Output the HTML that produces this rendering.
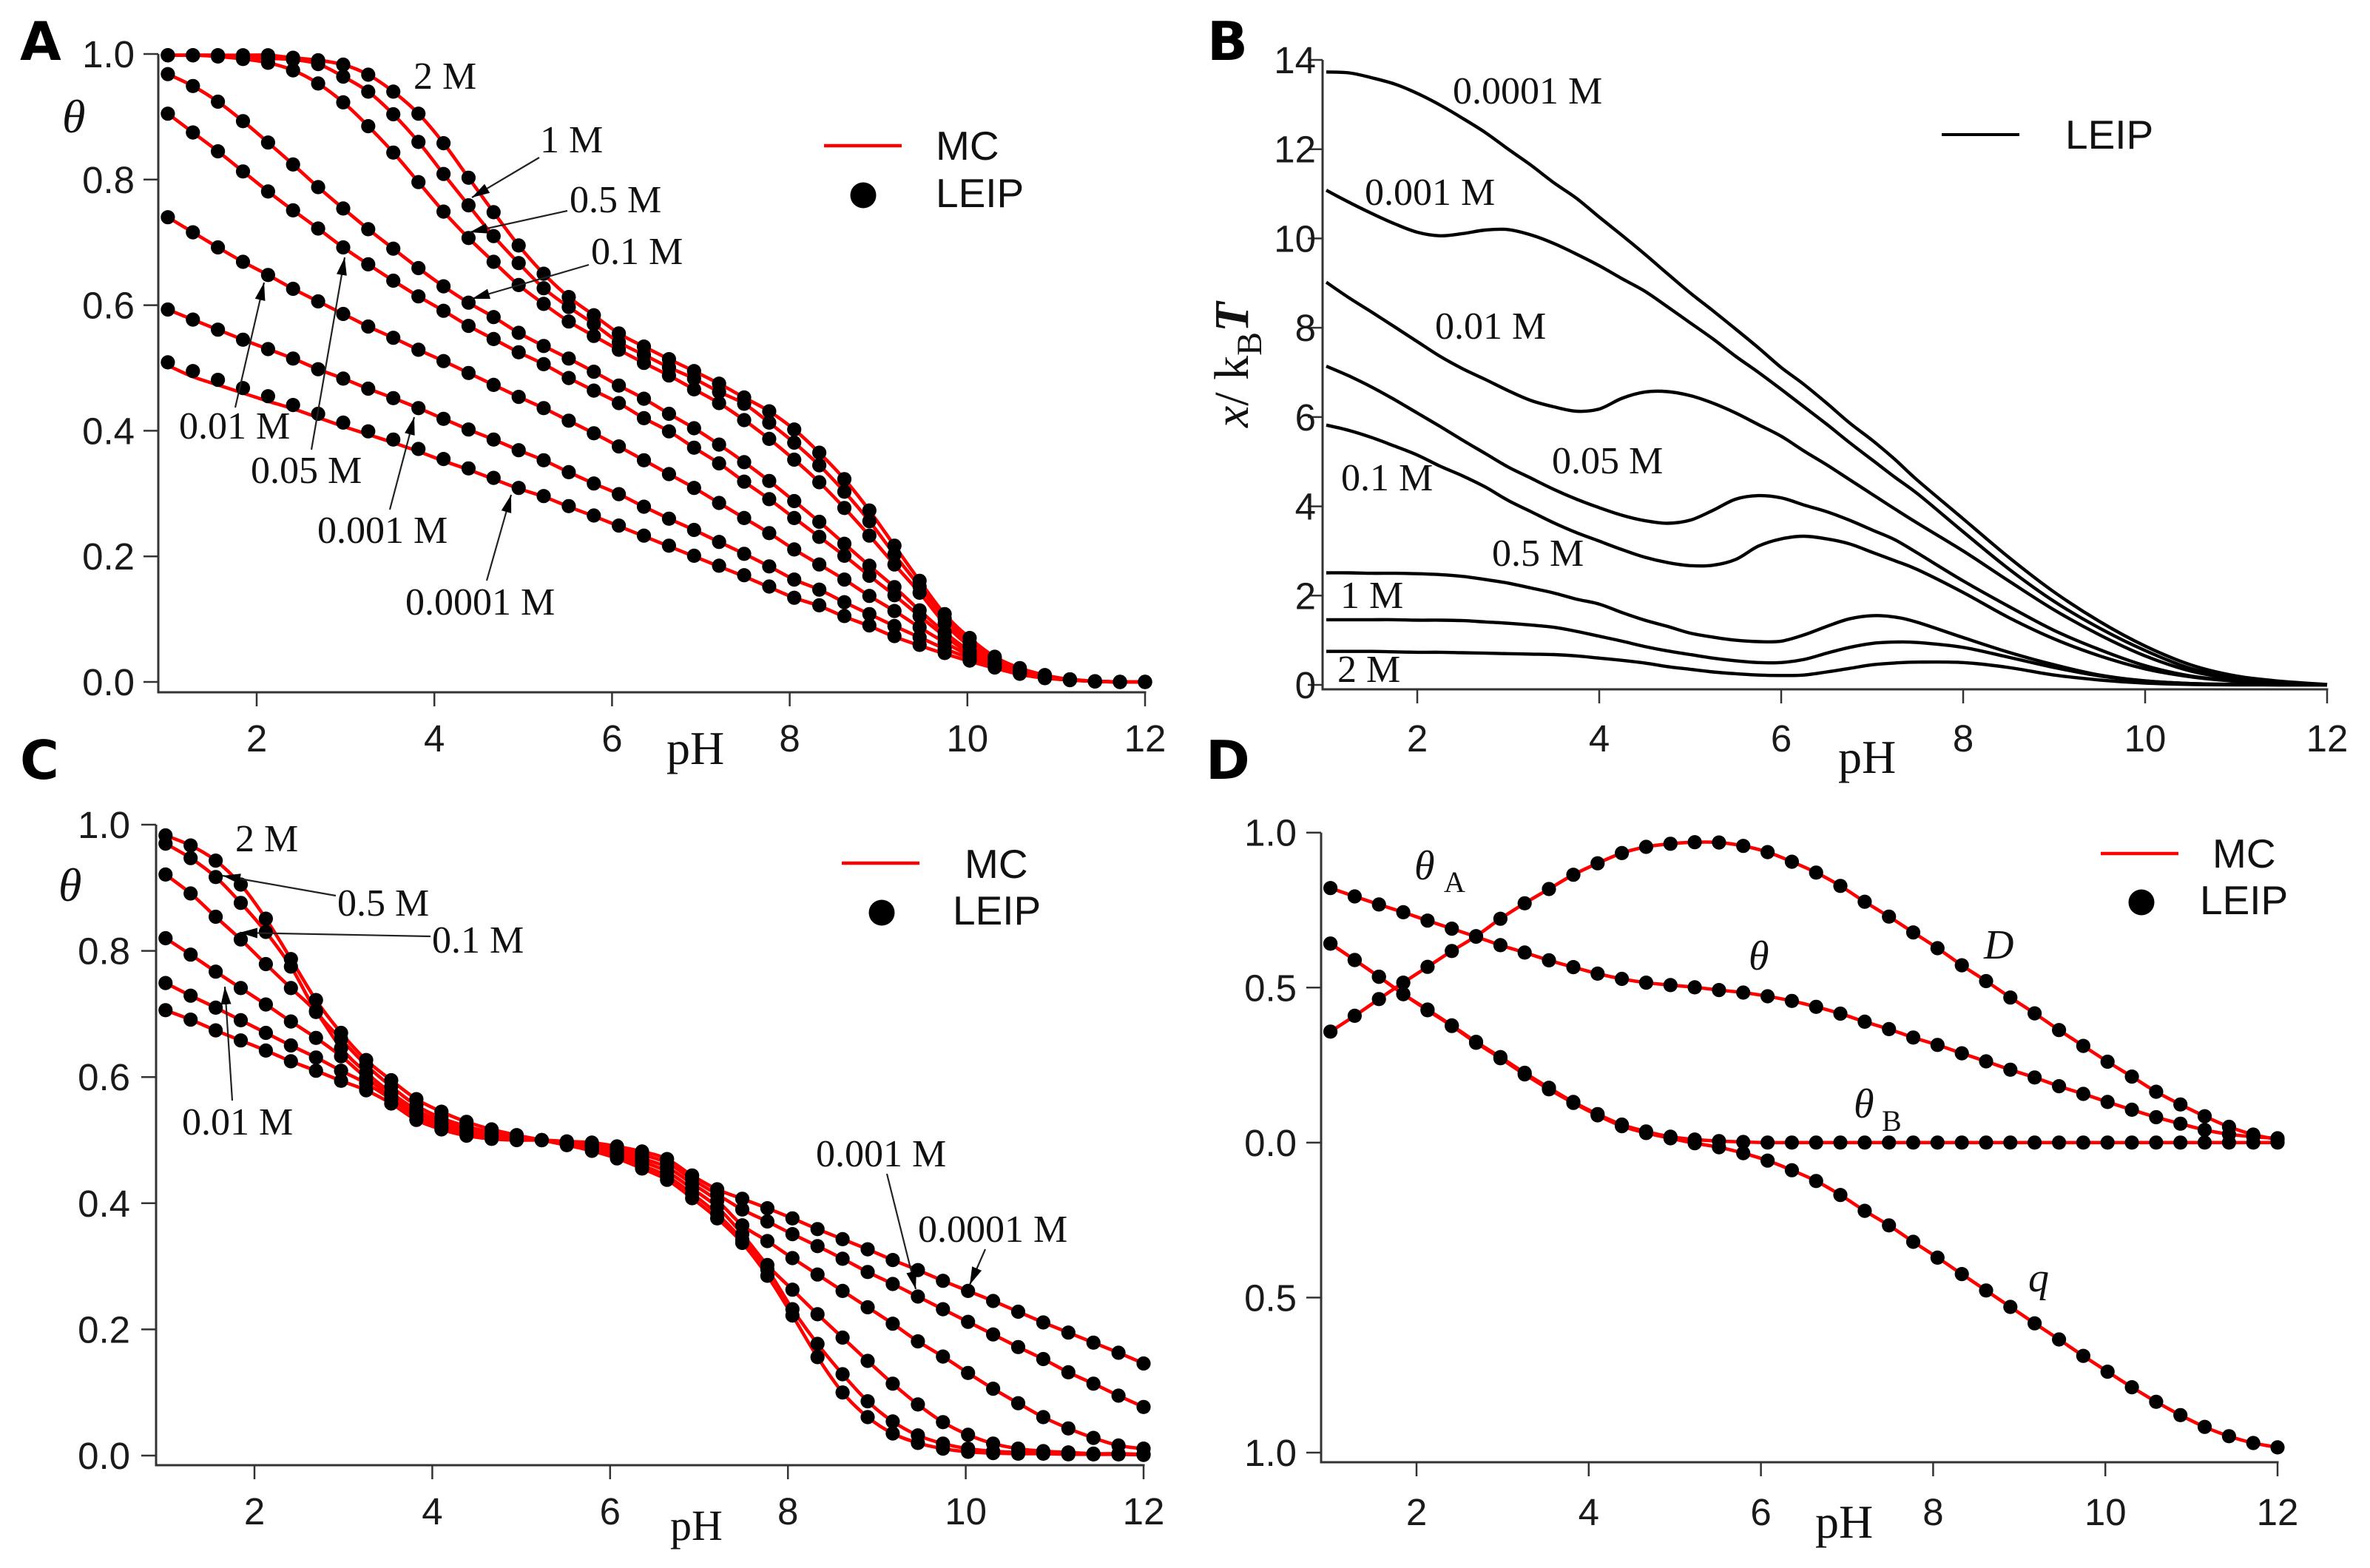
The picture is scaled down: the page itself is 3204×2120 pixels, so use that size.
<!DOCTYPE html>
<html lang="en">
<head>
<meta charset="utf-8">
<title>Ionization and charge curves versus pH</title>
<style>
html,body{margin:0;padding:0;background:#fff;width:3204px;height:2120px;overflow:hidden}
svg{display:block}
.tick{font-family:"Liberation Sans",sans-serif;font-size:51px;fill:#1a1a1a}
.leg{font-family:"Liberation Sans",sans-serif;font-size:55px;fill:#111}
.ann{font-family:"Liberation Serif",serif;font-size:52px;fill:#111}
.sym{font-family:"Liberation Serif",serif;font-style:italic;fill:#111}
.ph{font-family:"Liberation Serif",serif;fill:#111}
.panel{font-family:"DejaVu Sans",sans-serif;font-weight:bold;font-size:72px;fill:#000}
.arrow{stroke:#222;stroke-width:2.2;fill:none}
</style>
</head>
<body>
<svg id="fig" xmlns="http://www.w3.org/2000/svg" width="3204" height="2120" viewBox="0 0 3204 2120">
<defs>
<marker id="ah" viewBox="0 0 24 14" refX="24" refY="7" markerWidth="24" markerHeight="14" markerUnits="userSpaceOnUse" orient="auto"><path d="M0 0L24 7L0 14Z" fill="#000"/></marker>
</defs>
<rect width="3204" height="2120" fill="#fff"/>

<text class="panel" x="27" y="81">A</text>
<text class="panel" x="1632" y="81">B</text>
<text class="panel" x="27" y="1053">C</text>
<text class="panel" x="1630" y="1053">D</text>

<g id="plotA"></g>
<g id="plotB"></g>
<g id="plotC"></g>
<g id="plotD"></g>

<!-- Panel A text -->
<g>
<text class="sym" x="84" y="179" font-size="64">θ</text>
<text class="ph" x="901" y="1033" font-size="64">pH</text>
<text class="ann" x="559" y="120">2 M</text>
<text class="ann" x="730" y="206">1 M</text>
<text class="ann" x="770" y="287">0.5 M</text>
<text class="ann" x="799" y="357">0.1 M</text>
<text class="ann" x="242" y="593">0.01 M</text>
<text class="ann" x="339" y="653">0.05 M</text>
<text class="ann" x="429" y="734">0.001 M</text>
<text class="ann" x="548" y="831">0.0001 M</text>
<line class="arrow" x1="729" y1="213" x2="638" y2="267" marker-end="url(#ah)"/>
<line class="arrow" x1="767" y1="285" x2="635" y2="314" marker-end="url(#ah)"/>
<line class="arrow" x1="796" y1="358" x2="638" y2="404" marker-end="url(#ah)"/>
<line class="arrow" x1="318" y1="551" x2="357" y2="382" marker-end="url(#ah)"/>
<line class="arrow" x1="421" y1="608" x2="466" y2="348" marker-end="url(#ah)"/>
<line class="arrow" x1="527" y1="689" x2="560" y2="564" marker-end="url(#ah)"/>
<line class="arrow" x1="658" y1="785" x2="691" y2="669" marker-end="url(#ah)"/>
<g>
<line x1="1114" y1="197" x2="1219" y2="197" stroke="#f00" stroke-width="4.5"/>
<text class="leg" x="1265" y="216">MC</text>
<circle cx="1167" cy="264" r="17.5" fill="#000"/>
<text class="leg" x="1265" y="280">LEIP</text>
</g>
</g>

<!-- Panel B text -->
<g>
<text class="ph" x="2485" y="1045" font-size="64">pH</text>
<text transform="translate(1687 578) rotate(-90)" font-family="Liberation Serif, serif" font-size="66" fill="#111"><tspan font-style="italic">x</tspan>/ k<tspan dy="18" font-size="48">B</tspan><tspan dy="-18" font-style="italic" font-weight="bold">T</tspan></text>
<text class="ann" x="1964" y="140">0.0001 M</text>
<text class="ann" x="1845" y="277">0.001 M</text>
<text class="ann" x="1940" y="458">0.01 M</text>
<text class="ann" x="2098" y="640">0.05 M</text>
<text class="ann" x="1813" y="663">0.1 M</text>
<text class="ann" x="2017" y="765">0.5 M</text>
<text class="ann" x="1812" y="822">1 M</text>
<text class="ann" x="1808" y="922">2 M</text>
<g>
<line x1="2625" y1="182" x2="2730" y2="182" stroke="#000" stroke-width="4"/>
<text class="leg" x="2792" y="201">LEIP</text>
</g>
</g>

<!-- Panel C text -->
<g>
<text class="sym" x="79" y="1218" font-size="64">θ</text>
<text class="ph" x="906" y="2082" font-size="58">pH</text>
<text class="ann" x="318" y="1151">2 M</text>
<text class="ann" x="456" y="1238">0.5 M</text>
<text class="ann" x="584" y="1288">0.1 M</text>
<text class="ann" x="246" y="1534">0.01 M</text>
<text class="ann" x="1103" y="1577">0.001 M</text>
<text class="ann" x="1241" y="1679">0.0001 M</text>
<line class="arrow" x1="454" y1="1211" x2="301" y2="1184" marker-end="url(#ah)"/>
<line class="arrow" x1="582" y1="1266" x2="324" y2="1261" marker-end="url(#ah)"/>
<line class="arrow" x1="314" y1="1488" x2="304" y2="1334" marker-end="url(#ah)"/>
<line class="arrow" x1="1199" y1="1587" x2="1238" y2="1743" marker-end="url(#ah)"/>
<line class="arrow" x1="1332" y1="1689" x2="1311" y2="1737" marker-end="url(#ah)"/>
<g>
<line x1="1138" y1="1167" x2="1243" y2="1167" stroke="#f00" stroke-width="4.5"/>
<text class="leg" x="1304" y="1187">MC</text>
<circle cx="1192" cy="1234" r="17.5" fill="#000"/>
<text class="leg" x="1288" y="1250">LEIP</text>
</g>
</g>

<!-- Panel D text -->
<g>
<text class="ph" x="2454" y="2079" font-size="64">pH</text>
<text class="sym" x="1912" y="1189" font-size="56">θ</text>
<text class="ph" x="1952" y="1206" font-size="40">A</text>
<text class="sym" x="2364" y="1311" font-size="56">θ</text>
<text class="sym" x="2682" y="1296" font-size="56">D</text>
<text class="sym" x="2506" y="1511" font-size="56">θ</text>
<text class="ph" x="2544" y="1529" font-size="40">B</text>
<text class="sym" x="2742" y="1746" font-size="56">q</text>
<g>
<line x1="2840" y1="1154" x2="2945" y2="1154" stroke="#f00" stroke-width="4.5"/>
<text class="leg" x="2991" y="1173">MC</text>
<circle cx="2895" cy="1220" r="17.5" fill="#000"/>
<text class="leg" x="2974" y="1236">LEIP</text>
</g>
</g>
</svg>

<script>
// ---- shared categories ----
const phPoints = [1,1.282,1.564,1.846,2.128,2.41,2.692,2.974,3.256,3.538,3.821,4.103,4.385,4.667,4.949,5.231,5.513,5.795,6.077,6.359,6.641,6.923,7.205,7.487,7.769,8.051,8.333,8.615,8.897,9.179,9.462,9.744,10.026,10.308,10.59,10.872,11.154,11.436,11.718,12];
const phTicks = [2,4,6,8,10,12];
const phTickLabels = ['2','4','6','8','10','12'];

// ---- panel A: theta versus pH (dots = LEIP, line = MC) ----
const aTickValues = [0,0.2,0.4,0.6,0.8,1];
const aTickLabels = ['0.0','0.2','0.4','0.6','0.8','1.0'];
const a2M = [.998,.998,.998,.998,.998,.994,.990,.983,.967,.940,.905,.858,.803,.748,.695,.650,.613,.584,.555,.534,.514,.495,.475,.453,.431,.402,.365,.323,.273,.217,.161,.108,.070,.040,.022,.011,.004,.001,0,0];
const a1M = [.998,.998,.998,.995,.993,.991,.984,.964,.940,.904,.860,.809,.759,.710,.667,.627,.597,.570,.541,.521,.501,.483,.462,.443,.413,.381,.345,.303,.256,.203,.152,.101,.063,.037,.020,.010,.004,.001,0,0];
const a05M = [.998,.998,.996,.992,.986,.974,.953,.923,.885,.843,.796,.749,.707,.669,.632,.602,.574,.551,.529,.508,.488,.466,.444,.417,.387,.354,.318,.277,.233,.187,.142,.093,.057,.035,.018,.009,.004,.001,0,0];
const a01M = [.968,.949,.924,.893,.859,.824,.788,.754,.721,.690,.659,.630,.604,.581,.556,.535,.515,.494,.472,.451,.427,.404,.378,.350,.320,.288,.255,.220,.185,.151,.114,.079,.050,.032,.017,.009,.004,.001,0,0];
const a005M = [.905,.875,.845,.813,.781,.751,.722,.692,.665,.639,.614,.591,.567,.546,.525,.506,.484,.464,.444,.420,.399,.373,.348,.319,.291,.261,.231,.201,.169,.138,.105,.073,.046,.029,.016,.008,.004,.001,0,0];
const a001M = [.740,.716,.692,.669,.648,.626,.606,.586,.566,.548,.529,.511,.492,.473,.454,.436,.416,.396,.375,.353,.331,.309,.285,.261,.237,.211,.187,.163,.137,.113,.087,.063,.042,.027,.015,.007,.003,.001,0,0];
const a0001M = [.593,.577,.561,.545,.530,.515,.498,.483,.467,.452,.436,.419,.402,.386,.369,.353,.334,.316,.299,.279,.260,.242,.223,.204,.184,.163,.147,.127,.108,.089,.071,.053,.038,.025,.014,.007,.003,.001,0,0];
const a00001M = [.509,.495,.481,.468,.455,.441,.427,.413,.399,.386,.371,.355,.340,.325,.309,.296,.280,.265,.249,.233,.217,.201,.185,.170,.152,.134,.122,.105,.090,.073,.059,.046,.034,.023,.013,.006,.003,.001,0,0];
const a00001MLine = [.504,.486,.473,.460,.447,.435,.421,.407,.394,.381,.367,.352,.338,.323,.308,.295,.279,.264,.248,.232,.216,.200,.184,.168,.151,.134,.121,.104,.089,.072,.058,.045,.033,.022,.012,.006,.003,.001,0,0];

// ---- panel B: x/kBT versus pH (lines only) ----
const bPH = [1,1.25,1.5,1.75,2,2.25,2.5,2.75,3,3.25,3.5,3.75,4,4.25,4.5,4.75,5,5.25,5.5,5.75,6,6.25,6.5,6.75,7,7.25,7.5,8,8.5,9,9.5,10,10.5,11,11.5,12];
const bTickValues = [0,2,4,6,8,10,12,14];
const bTickLabels = ['0','2','4','6','8','10','12','14'];
const b00001M = [13.73,13.71,13.60,13.46,13.25,12.99,12.69,12.37,12.00,11.64,11.25,10.90,10.48,10.07,9.65,9.21,8.78,8.38,7.97,7.55,7.11,6.73,6.31,5.87,5.48,5.05,4.58,3.72,2.86,2.08,1.42,.87,.45,.20,.08,.01];
const b0001M = [11.08,10.81,10.56,10.33,10.14,10.06,10.11,10.19,10.20,10.08,9.89,9.65,9.39,9.10,8.82,8.47,8.11,7.75,7.36,7.00,6.62,6.23,5.84,5.43,5.04,4.65,4.28,3.43,2.60,1.87,1.27,.77,.37,.16,.06,0];
const b001M = [9.02,8.67,8.35,8.02,7.69,7.36,7.08,6.84,6.59,6.37,6.23,6.13,6.18,6.42,6.56,6.57,6.48,6.31,6.09,5.83,5.57,5.24,4.93,4.60,4.27,3.94,3.62,3.00,2.33,1.68,1.12,.65,.31,.13,.05,0];
const b005M = [7.14,6.92,6.67,6.39,6.09,5.79,5.48,5.18,4.88,4.63,4.38,4.16,3.97,3.80,3.68,3.62,3.69,3.91,4.16,4.24,4.19,4.03,3.88,3.69,3.47,3.25,2.95,2.33,1.76,1.22,.79,.43,.20,.09,.02,0];
const b01M = [5.82,5.70,5.54,5.35,5.15,4.90,4.68,4.43,4.13,3.88,3.63,3.41,3.22,3.03,2.86,2.74,2.67,2.68,2.81,3.11,3.27,3.33,3.27,3.16,2.97,2.78,2.58,2.07,1.51,1.03,.65,.36,.18,.08,.02,0];
const b05M = [2.51,2.51,2.50,2.50,2.49,2.47,2.43,2.36,2.28,2.17,2.06,1.92,1.81,1.62,1.45,1.31,1.16,1.07,1.00,.97,.98,1.12,1.31,1.48,1.55,1.52,1.40,1.06,.73,.45,.22,.09,.03,.01,0,0];
const b1M = [1.46,1.46,1.46,1.46,1.45,1.45,1.44,1.41,1.38,1.34,1.29,1.20,1.09,.98,.86,.76,.68,.60,.54,.50,.50,.57,.71,.84,.93,.96,.95,.84,.62,.39,.20,.09,.03,.01,0,0];
const b2M = [.75,.75,.75,.74,.73,.73,.72,.71,.70,.69,.68,.65,.60,.55,.49,.41,.35,.29,.25,.22,.21,.22,.29,.37,.45,.49,.51,.50,.39,.22,.11,.04,.01,0,0,0];

// ---- panel C: theta versus pH (dots = LEIP, line = MC) ----
const cTickValues = [0,0.2,0.4,0.6,0.8,1];
const cTickLabels = ['0.0','0.2','0.4','0.6','0.8','1.0'];
const c2M = [.983,.967,.943,.905,.851,.787,.722,.670,.627,.595,.565,.545,.529,.517,.508,.500,.492,.483,.471,.455,.437,.408,.376,.337,.285,.222,.156,.100,.061,.035,.020,.011,.006,.004,.003,.003,.002,.002,.002,.001];
const c05M = [.970,.947,.917,.876,.830,.775,.705,.660,.619,.585,.555,.535,.522,.512,.505,.500,.493,.486,.475,.460,.443,.415,.383,.342,.295,.232,.177,.129,.086,.054,.032,.019,.011,.007,.005,.004,.003,.002,.002,.002];
const c01M = [.921,.891,.854,.818,.779,.741,.703,.646,.607,.575,.548,.530,.518,.510,.504,.500,.495,.489,.479,.466,.450,.423,.394,.351,.302,.263,.224,.187,.150,.114,.081,.053,.033,.019,.011,.007,.005,.003,.003,.002];
const c001M = [.820,.794,.767,.741,.715,.688,.662,.633,.599,.570,.543,.526,.514,.507,.503,.500,.496,.492,.483,.471,.457,.431,.404,.365,.340,.313,.287,.261,.235,.209,.181,.157,.131,.106,.083,.061,.043,.028,.016,.011];
const c0001M = [.749,.729,.710,.690,.670,.650,.631,.610,.590,.565,.538,.522,.511,.505,.501,.500,.497,.494,.487,.477,.464,.438,.414,.390,.371,.351,.332,.312,.291,.272,.252,.232,.212,.192,.172,.153,.132,.114,.095,.077];
const c00001M = [.706,.691,.674,.658,.642,.625,.610,.594,.579,.558,.532,.517,.507,.502,.500,.500,.498,.496,.490,.482,.470,.444,.422,.407,.392,.376,.359,.343,.327,.310,.294,.277,.261,.245,.228,.211,.195,.179,.163,.146];

// ---- panel D: D, theta, thetaB, q versus pH ----
const dTickValues = [1,0.5,0,-0.5,-1];
const dTickLabels = ['1.0','0.5','0.0','0.5','1.0'];
const dCurveD = [.358,.409,.463,.516,.567,.618,.666,.722,.772,.818,.864,.901,.934,.954,.964,.969,.968,.957,.937,.906,.871,.828,.777,.729,.678,.627,.572,.521,.468,.417,.363,.312,.261,.213,.164,.123,.085,.051,.026,.010];
const dCurveTheta = [.821,.794,.768,.743,.716,.690,.664,.637,.613,.588,.566,.545,.528,.516,.508,.501,.492,.484,.472,.457,.438,.416,.390,.366,.339,.315,.288,.262,.235,.210,.182,.157,.131,.106,.082,.061,.041,.027,.019,.014];
const dCurveThetaB = [.642,.589,.535,.479,.429,.378,.325,.276,.225,.177,.131,.092,.058,.036,.019,.010,.005,.002,0,0,0,0,0,0,0,0,0,0,0,0,0,0,0,0,0,0,0,0,0,0];
const dCurveQ = [.642,.589,.535,.479,.427,.376,.322,.272,.220,.172,.128,.088,.053,.031,.014,-.002,-.015,-.034,-.058,-.089,-.124,-.169,-.220,-.267,-.320,-.371,-.424,-.477,-.530,-.583,-.635,-.688,-.739,-.789,-.836,-.879,-.917,-.947,-.969,-.983];

const SVG_NS = 'http://www.w3.org/2000/svg';

function linearScale(d0, d1, r0, r1) {
  return function (v) { return r0 + (v - d0) * (r1 - r0) / (d1 - d0); };
}

function smoothPath(xs, ys, sx, sy) {
  const p = xs.map(function (x, i) { return [sx(x), sy(ys[i])]; });
  let d = 'M' + p[0][0].toFixed(1) + ' ' + p[0][1].toFixed(1);
  for (let i = 0; i < p.length - 1; i++) {
    const a = p[Math.max(i - 1, 0)], b = p[i], c = p[i + 1], e = p[Math.min(i + 2, p.length - 1)];
    const c1x = b[0] + (c[0] - a[0]) / 6, c1y = b[1] + (c[1] - a[1]) / 6;
    const c2x = c[0] - (e[0] - b[0]) / 6, c2y = c[1] - (e[1] - b[1]) / 6;
    d += 'C' + c1x.toFixed(1) + ' ' + c1y.toFixed(1) + ' ' + c2x.toFixed(1) + ' ' + c2y.toFixed(1) + ' ' + c[0].toFixed(1) + ' ' + c[1].toFixed(1);
  }
  return d;
}

function drawAxes(root, sx, sy, yVals, yLabels, o) {
  const yAxis = document.createElementNS(SVG_NS, 'line');
  
  
  yAxis.setAttribute('x1', o.left); yAxis.setAttribute('x2', o.left);
  yAxis.setAttribute('y1', o.top); yAxis.setAttribute('y2', o.bottom + 1.5);
  yAxis.setAttribute('stroke', '#333'); yAxis.setAttribute('stroke-width', 3);
  root.appendChild(yAxis);

  const xAxis = document.createElementNS(SVG_NS, 'line');
  
  
  xAxis.setAttribute('x1', o.left); xAxis.setAttribute('x2', sx(12) + 1.5);
  xAxis.setAttribute('y1', o.bottom); xAxis.setAttribute('y2', o.bottom);
  xAxis.setAttribute('stroke', '#333'); xAxis.setAttribute('stroke-width', 3);
  root.appendChild(xAxis);

  phTicks.forEach(function (t, i) {
    const tick = document.createElementNS(SVG_NS, 'line');
    
    
    tick.setAttribute('x1', sx(t)); tick.setAttribute('x2', sx(t));
    tick.setAttribute('y1', o.bottom); tick.setAttribute('y2', o.bottom + 19);
    tick.setAttribute('stroke', '#333'); tick.setAttribute('stroke-width', 2.5);
    root.appendChild(tick);

    const lab = document.createElementNS(SVG_NS, 'text');
    
    
    lab.setAttribute('class', 'tick');
    lab.setAttribute('x', sx(t)); lab.setAttribute('y', o.xLabelY);
    lab.setAttribute('text-anchor', 'middle');
    lab.textContent = phTickLabels[i];
    root.appendChild(lab);
  });

  yVals.forEach(function (v, i) {
    const tick = document.createElementNS(SVG_NS, 'line');
    
    
    tick.setAttribute('x1', o.left - 20); tick.setAttribute('x2', o.left);
    tick.setAttribute('y1', sy(v)); tick.setAttribute('y2', sy(v));
    tick.setAttribute('stroke', '#333'); tick.setAttribute('stroke-width', 2.5);
    root.appendChild(tick);

    const lab = document.createElementNS(SVG_NS, 'text');
    
    
    lab.setAttribute('class', 'tick');
    lab.setAttribute('x', o.yLabelX); lab.setAttribute('y', sy(v) + 18);
    lab.setAttribute('text-anchor', 'end');
    lab.textContent = yLabels[i];
    root.appendChild(lab);
  });
}

function drawLine(root, xs, ys, sx, sy, color, width, seriesName) {
  const path = document.createElementNS(SVG_NS, 'path');
  
  
  path.setAttribute('d', smoothPath(xs, ys, sx, sy));
  path.setAttribute('fill', 'none');
  path.setAttribute('stroke', color);
  path.setAttribute('stroke-width', width);
  path.setAttribute('stroke-linejoin', 'round');
  root.appendChild(path);
}

function drawDots(root, xs, ys, sx, sy, seriesName) {
  const group = document.createElementNS(SVG_NS, 'g');
  
  
  ys.forEach(function (v, i) {
    const c = document.createElementNS(SVG_NS, 'circle');
    
    
    c.setAttribute('cx', sx(xs[i]).toFixed(1));
    c.setAttribute('cy', sy(v).toFixed(1));
    c.setAttribute('r', 9.6);
    c.setAttribute('fill', '#000');
    group.appendChild(c);
  });
  root.appendChild(group);
}

// Panel A
(function () {
  const root = document.getElementById('plotA');
  const sx = linearScale(2, 12, 347, 1548);
  const sy = linearScale(0, 1, 922, 73);
  drawAxes(root, sx, sy, aTickValues, aTickLabels, { left: 214, top: 73, bottom: 936, xLabelY: 1016, yLabelX: 182 });
  drawLine(root, phPoints, a2M, sx, sy, '#f00', 4.6, 'mc-2m');
  drawLine(root, phPoints, a1M, sx, sy, '#f00', 4.6, 'mc-1m');
  drawLine(root, phPoints, a05M, sx, sy, '#f00', 4.6, 'mc-0.5m');
  drawLine(root, phPoints, a01M, sx, sy, '#f00', 4.6, 'mc-0.1m');
  drawLine(root, phPoints, a005M, sx, sy, '#f00', 4.6, 'mc-0.05m');
  drawLine(root, phPoints, a001M, sx, sy, '#f00', 4.6, 'mc-0.01m');
  drawLine(root, phPoints, a0001M, sx, sy, '#f00', 4.6, 'mc-0.001m');
  drawLine(root, phPoints, a00001MLine, sx, sy, '#f00', 4.6, 'mc-0.0001m');
  drawDots(root, phPoints, a2M, sx, sy, 'leip-2m');
  drawDots(root, phPoints, a1M, sx, sy, 'leip-1m');
  drawDots(root, phPoints, a05M, sx, sy, 'leip-0.5m');
  drawDots(root, phPoints, a01M, sx, sy, 'leip-0.1m');
  drawDots(root, phPoints, a005M, sx, sy, 'leip-0.05m');
  drawDots(root, phPoints, a001M, sx, sy, 'leip-0.01m');
  drawDots(root, phPoints, a0001M, sx, sy, 'leip-0.001m');
  drawDots(root, phPoints, a00001M, sx, sy, 'leip-0.0001m');
})();

// Panel B
(function () {
  const root = document.getElementById('plotB');
  const sx = linearScale(2, 12, 1916, 3146);
  const sy = linearScale(0, 14, 926, 81);
  drawAxes(root, sx, sy, bTickValues, bTickLabels, { left: 1788, top: 81, bottom: 932, xLabelY: 1016, yLabelX: 1779 });
  drawLine(root, bPH, b00001M, sx, sy, '#000', 4.4, 'leip-0.0001m');
  drawLine(root, bPH, b0001M, sx, sy, '#000', 4.4, 'leip-0.001m');
  drawLine(root, bPH, b001M, sx, sy, '#000', 4.4, 'leip-0.01m');
  drawLine(root, bPH, b005M, sx, sy, '#000', 4.4, 'leip-0.05m');
  drawLine(root, bPH, b01M, sx, sy, '#000', 4.4, 'leip-0.1m');
  drawLine(root, bPH, b05M, sx, sy, '#000', 4.4, 'leip-0.5m');
  drawLine(root, bPH, b1M, sx, sy, '#000', 4.4, 'leip-1m');
  drawLine(root, bPH, b2M, sx, sy, '#000', 4.4, 'leip-2m');
})();

// Panel C
(function () {
  const root = document.getElementById('plotC');
  const sx = linearScale(2, 12, 344, 1546);
  const sy = linearScale(0, 1, 1968, 1115);
  drawAxes(root, sx, sy, cTickValues, cTickLabels, { left: 211, top: 1115, bottom: 1981, xLabelY: 2061, yLabelX: 176 });
  drawLine(root, phPoints, c2M, sx, sy, '#f00', 4.6, 'mc-2m');
  drawLine(root, phPoints, c05M, sx, sy, '#f00', 4.6, 'mc-0.5m');
  drawLine(root, phPoints, c01M, sx, sy, '#f00', 4.6, 'mc-0.1m');
  drawLine(root, phPoints, c001M, sx, sy, '#f00', 4.6, 'mc-0.01m');
  drawLine(root, phPoints, c0001M, sx, sy, '#f00', 4.6, 'mc-0.001m');
  drawLine(root, phPoints, c00001M, sx, sy, '#f00', 4.6, 'mc-0.0001m');
  drawDots(root, phPoints, c2M, sx, sy, 'leip-2m');
  drawDots(root, phPoints, c05M, sx, sy, 'leip-0.5m');
  drawDots(root, phPoints, c01M, sx, sy, 'leip-0.1m');
  drawDots(root, phPoints, c001M, sx, sy, 'leip-0.01m');
  drawDots(root, phPoints, c0001M, sx, sy, 'leip-0.001m');
  drawDots(root, phPoints, c00001M, sx, sy, 'leip-0.0001m');
})();

// Panel D
(function () {
  const root = document.getElementById('plotD');
  const sx = linearScale(2, 12, 1915, 3079);
  const sy = linearScale(-1, 1, 1964, 1125.7);
  drawAxes(root, sx, sy, dTickValues, dTickLabels, { left: 1786, top: 1125.7, bottom: 1977, xLabelY: 2062, yLabelX: 1753 });
  drawLine(root, phPoints, dCurveD, sx, sy, '#f00', 4.6, 'mc-d');
  drawLine(root, phPoints, dCurveTheta, sx, sy, '#f00', 4.6, 'mc-theta');
  drawLine(root, phPoints, dCurveThetaB, sx, sy, '#f00', 4.6, 'mc-theta-b');
  drawLine(root, phPoints, dCurveQ, sx, sy, '#f00', 4.6, 'mc-q');
  drawDots(root, phPoints, dCurveD, sx, sy, 'leip-d');
  drawDots(root, phPoints, dCurveTheta, sx, sy, 'leip-theta');
  drawDots(root, phPoints, dCurveThetaB, sx, sy, 'leip-theta-b');
  drawDots(root, phPoints, dCurveQ, sx, sy, 'leip-q');
})();
</script>
</body>
</html>
